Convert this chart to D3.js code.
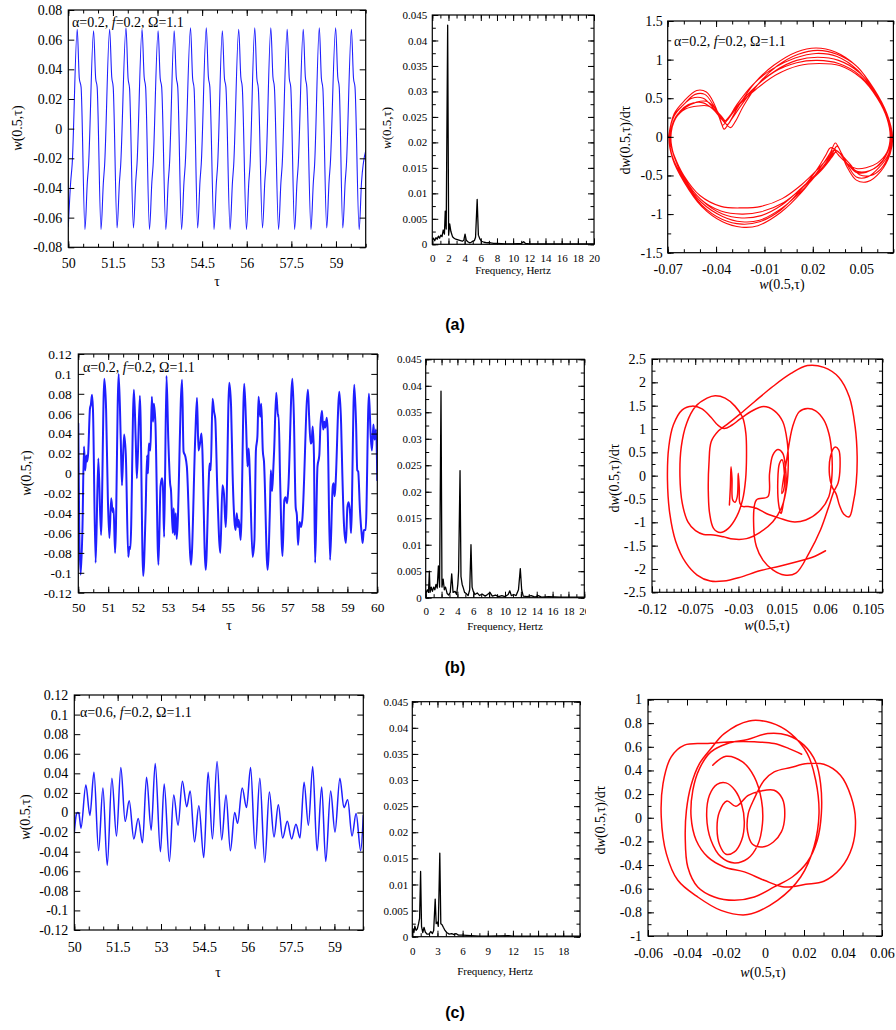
<!DOCTYPE html>
<html>
<head>
<meta charset="utf-8">
<script src="https://cdn.jsdelivr.net/npm/d3@7"></script>
<style>
  body { margin: 0; background: #fff; }
  svg { display: block; }
</style>
</head>
<body>
<svg id="fig" width="896" height="1030"></svg>
<script>
const SERIF = "'Liberation Serif', 'Times New Roman', serif";
const SANS = "'Liberation Sans', Arial, sans-serif";

// ---------- (a) alpha = 0.2 ----------
const aTime = [
  [50.00,-0.066],[50.08,-0.036],[50.13,-0.024],
  [50.30,0.067],[50.37,0.034],[50.43,0.028],[50.56,-0.068],[50.64,-0.036],[50.68,-0.025],
  [50.85,0.066],[50.92,0.034],[50.97,0.028],[51.10,-0.068],[51.18,-0.036],[51.22,-0.025],
  [51.39,0.067],[51.46,0.035],[51.51,0.028],[51.64,-0.067],[51.72,-0.036],[51.76,-0.025],
  [51.94,0.068],[52.01,0.034],[52.06,0.027],[52.19,-0.067],[52.27,-0.035],[52.31,-0.024],
  [52.48,0.067],[52.55,0.035],[52.60,0.028],[52.73,-0.068],[52.81,-0.036],[52.85,-0.025],
  [53.02,0.066],[53.09,0.034],[53.14,0.028],[53.28,-0.068],[53.36,-0.036],[53.40,-0.025],
  [53.56,0.066],[53.63,0.035],[53.68,0.028],[53.81,-0.068],[53.89,-0.036],[53.93,-0.025],
  [54.11,0.068],[54.18,0.034],[54.23,0.027],[54.35,-0.067],[54.43,-0.035],[54.47,-0.024],
  [54.64,0.068],[54.71,0.035],[54.76,0.028],[54.90,-0.068],[54.98,-0.036],[55.02,-0.025],
  [55.18,0.066],[55.25,0.034],[55.30,0.028],[55.44,-0.068],[55.52,-0.036],[55.56,-0.025],
  [55.73,0.067],[55.80,0.035],[55.85,0.028],[55.99,-0.068],[56.07,-0.036],[56.11,-0.025],
  [56.27,0.068],[56.34,0.034],[56.39,0.027],[56.53,-0.067],[56.61,-0.035],[56.65,-0.024],
  [56.81,0.068],[56.88,0.035],[56.93,0.028],[57.07,-0.068],[57.15,-0.036],[57.19,-0.025],
  [57.36,0.067],[57.43,0.034],[57.48,0.028],[57.61,-0.068],[57.69,-0.036],[57.73,-0.025],
  [57.90,0.067],[57.97,0.035],[58.02,0.028],[58.16,-0.068],[58.24,-0.036],[58.28,-0.025],
  [58.44,0.068],[58.51,0.034],[58.56,0.027],[58.69,-0.067],[58.77,-0.035],[58.81,-0.024],
  [58.99,0.068],[59.06,0.035],[59.11,0.028],[59.23,-0.067],[59.31,-0.036],[59.35,-0.025],
  [59.52,0.067],[59.59,0.034],[59.64,0.028],[59.78,-0.068],[59.86,-0.036],[60.00,-0.015]
];

const aSpectrum = [
  [0,0.0008],[0.15,0.0012],[0.3,0.0007],[0.45,0.0013],[0.6,0.001],[0.75,0.0016],[0.9,0.0012],
  [1.05,0.0018],[1.2,0.0015],[1.35,0.0028],[1.5,0.002],[1.6,0.0065],[1.72,0.003],[1.9,0.043],
  [2.02,0.0018],[2.15,0.004],[2.3,0.0025],[2.5,0.0015],[2.7,0.0012],[2.9,0.001],[3.1,0.0009],
  [3.3,0.0008],[3.5,0.0007],[3.7,0.0006],[3.9,0.0008],[4.05,0.002],[4.2,0.0008],[4.4,0.0005],
  [4.6,0.0003],[4.8,0.0004],[5.0,0.0006],[5.2,0.0007],[5.35,0.0014],[5.55,0.0088],[5.7,0.0018],
  [5.9,0.001],[6.1,0.0006],[6.4,0.0004],[6.8,0.0003],[7.2,0.0003],[7.6,0.0002],[8,0.0002],
  [9,0.0001],[10,0.0001],[11,0.0002],[11.3,0.0005],[11.5,0.0002],[12,0.0001],[14,0.0001],
  [16,0.0001],[20,0.0001]
];

// overlapping orbits of the attractor
const aOrbitA = [[-0.0695,0.00],[-0.066,0.30],[-0.060,0.46],[-0.052,0.60],[-0.046,0.58],[-0.041,0.42],[-0.037,0.20],[-0.035,0.10],[-0.032,0.18],[-0.026,0.40],[-0.016,0.70],[-0.004,0.93],[0.010,1.10],[0.022,1.15],[0.034,1.10],[0.047,0.92],[0.058,0.62],[0.066,0.30],[0.0695,0.00],[0.068,-0.22],[0.062,-0.45],[0.054,-0.58],[0.047,-0.56],[0.041,-0.38],[0.037,-0.18],[0.034,-0.08],[0.031,-0.20],[0.024,-0.42],[0.013,-0.72],[0.000,-0.98],[-0.014,-1.15],[-0.024,-1.17],[-0.036,-1.10],[-0.049,-0.90],[-0.060,-0.58],[-0.067,-0.28]];
const aOrbitB = [[-0.0690,0.00],[-0.066,0.28],[-0.060,0.42],[-0.053,0.55],[-0.047,0.55],[-0.042,0.42],[-0.038,0.25],[-0.036,0.15],[-0.033,0.22],[-0.027,0.42],[-0.017,0.68],[-0.005,0.88],[0.009,1.02],[0.022,1.08],[0.035,1.04],[0.048,0.86],[0.058,0.58],[0.066,0.28],[0.069,0.00],[0.067,-0.22],[0.061,-0.40],[0.054,-0.52],[0.047,-0.52],[0.042,-0.38],[0.038,-0.22],[0.035,-0.12],[0.032,-0.22],[0.025,-0.42],[0.014,-0.68],[0.001,-0.92],[-0.013,-1.08],[-0.024,-1.10],[-0.036,-1.03],[-0.049,-0.85],[-0.060,-0.55],[-0.067,-0.26]];
const aOrbitC = [[-0.0685,0.00],[-0.065,0.26],[-0.059,0.38],[-0.052,0.45],[-0.046,0.46],[-0.041,0.38],[-0.037,0.26],[-0.035,0.20],[-0.032,0.26],[-0.026,0.42],[-0.016,0.64],[-0.004,0.84],[0.010,0.96],[0.023,0.99],[0.036,0.95],[0.049,0.80],[0.059,0.54],[0.066,0.26],[0.0685,0.00],[0.066,-0.22],[0.060,-0.38],[0.053,-0.46],[0.047,-0.46],[0.042,-0.36],[0.038,-0.25],[0.035,-0.18],[0.032,-0.26],[0.025,-0.44],[0.014,-0.65],[0.002,-0.85],[-0.012,-0.97],[-0.024,-1.00],[-0.037,-0.96],[-0.050,-0.80],[-0.060,-0.52],[-0.066,-0.25]];
const aOrbitD = [[-0.068,0.00],[-0.065,0.24],[-0.059,0.36],[-0.051,0.40],[-0.045,0.40],[-0.040,0.34],[-0.036,0.25],[-0.034,0.20],[-0.031,0.27],[-0.025,0.43],[-0.015,0.62],[-0.003,0.80],[0.011,0.92],[0.024,0.95],[0.037,0.92],[0.050,0.76],[0.060,0.50],[0.066,0.24],[0.068,0.00],[0.066,-0.20],[0.060,-0.34],[0.053,-0.40],[0.047,-0.41],[0.041,-0.34],[0.036,-0.24],[0.033,-0.17],[0.030,-0.26],[0.023,-0.42],[0.013,-0.62],[0.001,-0.80],[-0.012,-0.90],[-0.024,-0.92],[-0.037,-0.90],[-0.050,-0.76],[-0.060,-0.50],[-0.066,-0.24]];
const aOrbitE = [[-0.0692,0.00],[-0.066,0.27],[-0.061,0.40],[-0.055,0.50],[-0.048,0.50],[-0.042,0.38],[-0.036,0.22],[-0.031,0.12],[-0.028,0.20],[-0.023,0.40],[-0.014,0.68],[-0.002,0.92],[0.011,1.07],[0.023,1.12],[0.035,1.07],[0.048,0.90],[0.058,0.60],[0.066,0.29],[0.0692,0.00],[0.067,-0.24],[0.062,-0.42],[0.056,-0.50],[0.049,-0.49],[0.043,-0.35],[0.036,-0.20],[0.031,-0.14],[0.028,-0.24],[0.022,-0.44],[0.012,-0.70],[0.000,-0.95],[-0.013,-1.10],[-0.024,-1.13],[-0.036,-1.07],[-0.049,-0.88],[-0.060,-0.56],[-0.067,-0.27]];
const aOrbitF = [[-0.0688,0.00],[-0.065,0.25],[-0.060,0.38],[-0.054,0.44],[-0.048,0.44],[-0.042,0.36],[-0.037,0.24],[-0.033,0.16],[-0.030,0.24],[-0.024,0.42],[-0.015,0.66],[-0.003,0.86],[0.010,0.99],[0.023,1.03],[0.036,0.99],[0.049,0.83],[0.059,0.56],[0.066,0.27],[0.0688,0.00],[0.066,-0.22],[0.061,-0.37],[0.055,-0.44],[0.048,-0.45],[0.042,-0.36],[0.037,-0.26],[0.034,-0.20],[0.031,-0.27],[0.024,-0.44],[0.013,-0.66],[0.001,-0.88],[-0.012,-1.02],[-0.024,-1.05],[-0.036,-1.00],[-0.049,-0.82],[-0.060,-0.53],[-0.066,-0.26]];
const aPhase = [...aOrbitA, ...aOrbitE, ...aOrbitB, ...aOrbitF, ...aOrbitC, ...aOrbitD, [-0.0695,0.00]];

// ---------- (b) alpha = 0.2, chaotic ----------
const bTime = [
  [50.00,0.050],[50.03,-0.054],[50.08,-0.102],[50.14,-0.054],[50.19,0.027],[50.23,0.003],[50.27,0.018],[50.30,0.012],[50.33,0.020],[50.39,0.065],[50.42,0.069],[50.46,0.079],[50.49,0.065],[50.58,-0.090],[50.67,0.015],[50.76,-0.062],[50.87,0.095],[50.93,0.064],[50.99,-0.027],[51.04,-0.065],[51.10,-0.025],[51.15,-0.039],[51.18,-0.035],[51.23,-0.080],[51.35,0.100],[51.42,0.034],[51.46,-0.012],[51.53,0.039],[51.59,0.018],[51.67,-0.084],[51.71,-0.074],[51.74,-0.076],[51.86,0.084],[51.92,0.034],[51.96,-0.005],[52.06,0.078],[52.17,-0.103],[52.25,-0.040],[52.30,0.018],[52.33,0.000],[52.36,0.030],[52.41,0.023],[52.46,0.077],[52.50,0.052],[52.53,0.070],[52.58,0.050],[52.68,-0.092],[52.75,-0.013],[52.80,-0.005],[52.83,-0.013],[52.87,-0.064],[52.95,0.098],[53.01,0.034],[53.07,-0.010],[53.10,-0.017],[53.16,-0.060],[53.19,-0.035],[53.22,-0.062],[53.26,-0.040],[53.29,-0.066],[53.47,0.094],[53.52,0.022],[53.58,0.017],[53.63,0.007],[53.77,-0.092],[53.91,0.035],[53.97,0.076],[54.02,0.023],[54.07,0.030],[54.12,0.040],[54.26,-0.097],[54.36,-0.010],[54.39,0.010],[54.43,0.003],[54.49,0.075],[54.54,0.062],[54.58,0.055],[54.65,-0.017],[54.75,-0.080],[54.82,-0.012],[54.87,-0.020],[54.93,-0.054],[55.05,0.091],[55.11,0.067],[55.16,0.000],[55.22,-0.047],[55.26,-0.057],[55.30,-0.040],[55.34,-0.054],[55.37,-0.047],[55.43,-0.067],[55.55,0.090],[55.61,0.050],[55.66,0.007],[55.70,0.025],[55.74,-0.003],[55.83,-0.084],[55.89,-0.067],[55.94,0.023],[55.99,0.037],[56.03,0.077],[56.08,0.057],[56.12,0.070],[56.17,0.023],[56.21,0.012],[56.33,-0.097],[56.41,-0.034],[56.44,0.003],[56.48,-0.018],[56.52,0.003],[56.55,0.023],[56.62,0.081],[56.68,0.057],[56.70,0.059],[56.75,-0.007],[56.83,-0.083],[56.89,-0.027],[56.93,-0.024],[56.98,-0.030],[57.02,-0.017],[57.16,0.095],[57.21,0.057],[57.27,-0.034],[57.31,-0.042],[57.35,-0.072],[57.40,-0.049],[57.45,-0.054],[57.49,-0.047],[57.68,0.084],[57.72,0.057],[57.77,0.030],[57.80,0.031],[57.84,0.047],[57.88,0.020],[57.92,-0.090],[58.00,0.007],[58.06,0.018],[58.10,0.049],[58.15,0.063],[58.19,0.044],[58.23,0.052],[58.26,0.046],[58.31,0.056],[58.34,0.044],[58.42,-0.087],[58.51,-0.013],[58.54,-0.010],[58.57,-0.023],[58.60,-0.013],[58.73,0.082],[58.79,0.050],[58.83,0.000],[58.89,-0.054],[58.95,-0.070],[59.00,-0.034],[59.04,-0.029],[59.09,-0.040],[59.12,-0.060],[59.23,0.089],[59.29,0.050],[59.33,0.003],[59.36,0.002],[59.42,-0.037],[59.48,-0.062],[59.51,-0.070],[59.55,-0.057],[59.61,-0.057],[59.72,0.080],[59.78,0.037],[59.82,0.023],[59.87,0.049],[59.91,0.034],[59.96,0.044],[60.00,-0.007]
];

const bSpectrum = [
  [0,0.0008],[0.2,0.0015],[0.35,0.001],[0.46,0.005],[0.55,0.001],[0.7,0.002],[0.85,0.0012],[1.0,0.002],
  [1.15,0.0015],[1.3,0.0025],[1.45,0.0018],[1.6,0.006],[1.75,0.002],[1.93,0.039],[2.05,0.002],[2.2,0.0035],
  [2.35,0.0015],[2.5,0.002],[2.7,0.0008],[2.9,0.0005],[3.1,0.001],[3.28,0.0045],[3.45,0.001],[3.7,0.0012],
  [3.9,0.0006],[4.05,0.0025],[4.15,0.005],[4.33,0.024],[4.45,0.004],[4.6,0.0025],[4.75,0.0018],[4.9,0.001],
  [5.1,0.0008],[5.35,0.0004],[5.55,0.0015],[5.71,0.01],[5.85,0.002],[6.0,0.0012],[6.2,0.0006],[6.5,0.0009],
  [6.8,0.0004],[7.1,0.0007],[7.5,0.0003],[7.8,0.0006],[8.1,0.001],[8.4,0.0003],[8.8,0.0005],[9.2,0.0002],
  [9.6,0.0004],[10.0,0.0002],[10.4,0.0006],[10.6,0.0013],[10.8,0.0004],[11.1,0.0006],[11.4,0.0004],
  [11.7,0.0015],[11.93,0.0055],[12.1,0.0015],[12.3,0.0003],[12.8,0.0002],[13.3,0.0004],[13.8,0.0001],
  [14.2,0.0004],[14.6,0.0001],[15.5,0.0002],[17,0.0001],[18.5,0.0001],[20,0.0001]
];

const bPhase = [
  [0.0607,-1.61],[0.0470,-1.75],[0.0298,-1.85],[0.0127,-1.94],[-0.0079,-2.04],[-0.0285,-2.18],[-0.0456,-2.26],[-0.0593,-2.26],[-0.0730,-2.13],[-0.0850,-1.86],[-0.0953,-1.41],[-0.1015,-0.81],[-0.1039,-0.09],[-0.1025,0.62],[-0.0977,1.09],[-0.0885,1.41],[-0.0782,1.49],
  [-0.0679,1.43],[-0.0586,1.25],[-0.0518,1.09],[-0.0449,1.01],[-0.0370,1.08],[-0.0285,1.21],[-0.0165,1.38],[-0.0038,1.48],[0.0075,1.39],[0.0161,1.16],[0.0206,0.76],[0.0219,0.26],[0.0202,-0.24],[0.0154,-0.66],[0.0058,-0.99],[-0.0079,-1.22],[-0.0216,-1.35],[-0.0353,-1.36],[-0.0456,-1.31],[-0.0559,-1.27],[-0.0662,-1.26],[-0.0747,-1.18],[-0.0826,-0.99],[-0.0885,-0.59],[-0.0909,-0.02],[-0.0895,0.62],[-0.0840,1.12],[-0.0747,1.48],[-0.0627,1.66],[-0.0542,1.71],[-0.0439,1.66],[-0.0336,1.49],[-0.0257,1.25],[-0.0223,0.91],[-0.0216,0.41],[-0.0226,-0.09],[-0.0257,-0.52],[-0.0319,-0.88],[-0.0405,-1.13],[-0.0490,-1.22],[-0.0559,-1.13],[-0.0600,-0.81],[-0.0614,-0.31],[-0.0607,0.26],[-0.0583,0.73],[-0.0507,0.96],
  [-0.0405,1.12],[-0.0285,1.32],[-0.0130,1.59],[0.0058,1.91],[0.0247,2.19],[0.0418,2.36],[0.0590,2.32],[0.0744,2.11],[0.0854,1.69],[0.0915,1.05],[0.0936,0.41],[0.0926,-0.16],[0.0895,-0.59],[0.0854,-0.88],[0.0795,-0.82],[0.0751,-0.63],[0.0717,-0.39],
  [0.0675,-0.24],[0.0648,0.01],[0.0658,0.41],[0.0703,0.61],[0.0744,0.55],[0.0758,0.19],[0.0737,-0.16],[0.0693,-0.34],
  [0.0641,-0.66],[0.0555,-1.16],[0.0435,-1.66],[0.0298,-2.09],[0.0178,-2.13],[0.0058,-2.02],[-0.0045,-1.81],[-0.0113,-1.52],[-0.0141,-1.09],[-0.0113,-0.52],
  [0.0007,-0.45],[0.0024,0.05],[0.0058,0.44],[0.0110,0.56],[0.0161,0.48],[0.0189,0.19],[0.0195,-0.24],[0.0168,-0.59],[0.0144,-0.81],[0.0120,-0.63],[0.0110,-0.09],[0.0127,0.26],[0.0154,0.34],[0.0178,0.05],[0.0171,-0.31],[0.0151,-0.38],
  [0.0202,0.34],[0.0264,1.05],[0.0333,1.37],[0.0418,1.44],[0.0504,1.39],[0.0590,1.19],[0.0641,0.91],[0.0669,0.55],[0.0675,0.05],[0.0641,-0.45],[0.0538,-0.77],[0.0401,-0.95],[0.0264,-0.99],[0.0127,-0.91],[-0.0010,-0.81],[-0.0113,-0.70],[-0.0199,-0.66],[-0.0257,-0.66],[-0.0285,-0.59],[-0.0291,-0.27],[-0.0302,0.05],[-0.0312,-0.45],[-0.0336,-0.57],[-0.0360,-0.52],[-0.0367,-0.06],[-0.0377,0.19],[-0.0384,-0.24],[-0.0394,-0.63]
];

// ---------- (c) alpha = 0.6 ----------
const cTime = [
  [50.00,-0.021],[50.07,-0.002],[50.115,0.000],[50.16,-0.001],[50.23,-0.016],[50.40,0.028],[50.54,-0.003],[50.68,0.041],[50.84,-0.039],[50.99,0.025],[51.14,-0.054],[51.30,0.035],[51.46,-0.024],[51.61,0.046],[51.76,-0.009],[51.90,0.012],[52.06,-0.027],[52.21,-0.006],[52.36,-0.031],[52.50,0.036],[52.66,-0.018],[52.80,0.050],[52.98,-0.040],[53.11,0.029],[53.29,-0.050],[53.44,0.018],[53.59,-0.013],[53.74,0.032],[53.89,0.006],[54.01,0.022],[54.16,-0.030],[54.31,0.007],[54.48,-0.046],[54.63,0.041],[54.78,-0.027],[54.94,0.052],[55.10,-0.028],[55.25,0.018],[55.40,-0.039],[55.55,0.000],[55.65,-0.011],[55.81,0.025],[55.96,0.005],[56.10,0.046],[56.26,-0.037],[56.42,0.035],[56.59,-0.051],[56.75,0.021],[56.91,-0.025],[57.06,0.008],[57.21,-0.026],[57.37,-0.009],[57.52,-0.027],[57.67,-0.012],[57.81,-0.026],[57.95,0.031],[58.10,-0.013],[58.25,0.047],[58.40,-0.039],[58.56,0.026],[58.70,-0.050],[58.87,0.022],[59.02,-0.020],[59.19,0.035],[59.33,0.005],[59.46,0.013],[59.61,-0.024],[59.75,-0.001],[59.91,-0.039],[60.00,-0.003]
];

const cSpectrum = [
  [0,0.0005],[0.1,0.0015],[0.2,0.0008],[0.3,0.002],[0.45,0.0012],[0.6,0.0015],[0.75,0.0025],[0.87,0.0035],
  [0.99,0.0125],[1.1,0.002],[1.25,0.0008],[1.4,0.0018],[1.55,0.0009],[1.75,0.0005],[2.0,0.0005],[2.2,0.001],
  [2.4,0.0006],[2.55,0.0012],[2.73,0.0072],[2.85,0.0025],[3.0,0.0028],[3.1,0.002],[3.28,0.016],[3.4,0.0025],
  [3.55,0.0023],[3.7,0.0018],[3.9,0.0012],[4.1,0.0008],[4.4,0.0005],[4.7,0.0006],[5.0,0.0004],[5.2,0.0006],
  [5.5,0.0003],[6,0.0003],[7,0.0002],[8,0.0001],[9,0.0001],[11.5,0.0002],[12,0.0001],[15,0.0001],[20,0.0001]
];

const cPhase = [
  [-0.0268,0.444],[-0.0200,0.520],[-0.0115,0.472],[-0.0055,0.346],[-0.0018,0.148],[-0.0013,-0.049],[-0.0038,-0.233],[-0.0089,-0.346],[-0.0157,-0.382],[-0.0226,-0.331],[-0.0277,-0.190],[-0.0299,0.007],[-0.0285,0.190],[-0.0246,0.283],[-0.0200,0.295],[-0.0154,0.233],[-0.0120,0.114],[-0.0106,-0.035],[-0.0120,-0.190],[-0.0157,-0.289],[-0.0200,-0.309],[-0.0232,-0.233],[-0.0246,-0.092],[-0.0234,0.049],[-0.0195,0.142],
  [-0.0149,0.097],[-0.0086,0.190],[-0.0021,0.227],[0.0047,0.233],[0.0089,0.162],[0.0101,0.007],[0.0084,-0.120],[0.0043,-0.205],[-0.0013,-0.247],[-0.0064,-0.224],[-0.0089,-0.120],[-0.0086,0.035],[-0.0059,0.148],[-0.0004,0.317],
  [0.0047,0.388],[0.0132,0.425],[0.0217,0.458],[0.0302,0.453],[0.0387,0.360],[0.0442,0.176],[0.0464,-0.021],[0.0447,-0.247],[0.0387,-0.430],[0.0302,-0.537],[0.0209,-0.563],[0.0098,-0.585],[-0.0004,-0.529],[-0.0106,-0.458],[-0.0209,-0.416],[-0.0294,-0.331],[-0.0353,-0.190],[-0.0379,0.007],[-0.0370,0.233],[-0.0336,0.416],[-0.0277,0.557],[-0.0192,0.628],[-0.0089,0.662],[0.0013,0.712],
  [0.0115,0.698],[0.0200,0.614],[0.0260,0.472],[0.0285,0.289],[0.0289,0.035],[0.0268,-0.190],[0.0217,-0.374],[0.0140,-0.501],[0.0047,-0.585],[-0.0055,-0.670],[-0.0157,-0.698],[-0.0260,-0.670],[-0.0345,-0.585],[-0.0396,-0.416],[-0.0409,-0.162],[-0.0403,0.063],[-0.0379,0.275],[-0.0336,0.458],[-0.0277,0.585],[-0.0209,0.712],[-0.0081,0.819],
  [0.0030,0.803],[0.0132,0.712],[0.0217,0.543],[0.0260,0.317],[0.0277,0.035],[0.0251,-0.247],[0.0183,-0.501],[0.0064,-0.698],[-0.0089,-0.819],[-0.0226,-0.783],[-0.0345,-0.670],[-0.0447,-0.529],[-0.0506,-0.303],[-0.0532,0.007],[-0.0523,0.289],[-0.0481,0.515],
  [-0.0413,0.614],[-0.0294,0.628],[-0.0174,0.642],[-0.0055,0.642],[0.0047,0.628],[0.0123,0.585],[0.0188,0.537]
];

// ---------- tick values ----------
const tauTicks15 = [50, 51.5, 53, 54.5, 56, 57.5, 59];
const tauTicks1 = [50, 51, 52, 53, 54, 55, 56, 57, 58, 59, 60];
const wTicks08 = [-0.08, -0.06, -0.04, -0.02, 0, 0.02, 0.04, 0.06, 0.08];
const wTicks12 = [-0.12, -0.1, -0.08, -0.06, -0.04, -0.02, 0, 0.02, 0.04, 0.06, 0.08, 0.1, 0.12];
const ampTicks = [0, 0.005, 0.01, 0.015, 0.02, 0.025, 0.03, 0.035, 0.04, 0.045];
const freqTicks2 = [0, 2, 4, 6, 8, 10, 12, 14, 16, 18, 20];
const freqTicks3 = [0, 3, 6, 9, 12, 15, 18];
const aPhaseXTicks = [-0.07, -0.04, -0.01, 0.02, 0.05];
const aPhaseYTicks = [-1.5, -1, -0.5, 0, 0.5, 1, 1.5];
const bPhaseXTicks = [-0.12, -0.075, -0.03, 0.015, 0.06, 0.105];
const bPhaseYTicks = [-2.5, -2, -1.5, -1, -0.5, 0, 0.5, 1, 1.5, 2, 2.5];
const cPhaseXTicks = [-0.06, -0.04, -0.02, 0, 0.02, 0.04, 0.06];
const cPhaseYTicks = [-1, -0.8, -0.6, -0.4, -0.2, 0, 0.2, 0.4, 0.6, 0.8, 1];

const wLabel = [["w", true], ["(0.5,τ)", false]];
const dwLabel = [["d", false], ["w", true], ["(0.5,τ)/dτ", false]];
const tauLabel = [["τ", false]];
const freqLabel = [["Frequency, Hertz", false]];
const paramsA = [["α=0.2, ", false], ["f", true], ["=0.2, Ω=1.1", false]];
const paramsC = [["α=0.6, ", false], ["f", true], ["=0.2, Ω=1.1", false]];

const svg = d3.select("#fig");
svg.append("rect").attr("width", 896).attr("height", 1030).attr("fill", "#fff");

function richText(sel, parts) {
  parts.forEach(([t, it]) => sel.append("tspan").text(t).attr("font-style", it ? "italic" : null));
  return sel;
}

const BLUE = "#1f1fff", RED = "#ff0a0a", BLACK = "#000";

function drawPanel(p) {
  const [L, R, T, B] = p.box;
  const g = svg.append("g");
  const x = d3.scaleLinear().domain(p.xDomain).range([L, R]);
  const y = d3.scaleLinear().domain(p.yDomain).range([B, T]);

  const clipId = "clip-" + p.id;
  g.append("clipPath").attr("id", clipId)
    .append("rect").attr("x", L).attr("y", T).attr("width", R - L).attr("height", B - T);

  g.append("path").datum(p.data)
    .attr("clip-path", `url(#${clipId})`)
    .attr("fill", "none").attr("stroke", p.color).attr("stroke-width", p.lw)
    .attr("stroke-linejoin", "round").attr("stroke-linecap", "round")
    .attr("d", d3.line().x(d => x(d[0])).y(d => y(d[1])).curve(p.curve));

  const style = s => s.attr("font-family", SERIF).attr("font-size", p.fs)
    .call(a => a.select(".domain").remove())
    .call(a => a.selectAll("line").attr("stroke", "#000").attr("stroke-width", 1));
  const fmt = v => String(v);
  const major = 6, minor = 3.5;

  // minor ticks on all four sides, pointing inward
  if (p.xMinor) {
    g.append("g").attr("transform", `translate(0,${B})`).call(d3.axisBottom(x).tickValues(p.xMinor).tickSize(-minor).tickFormat("")).call(style);
    g.append("g").attr("transform", `translate(0,${T})`).call(d3.axisTop(x).tickValues(p.xMinor).tickSize(-minor).tickFormat("")).call(style);
  }
  if (p.yMinor) {
    g.append("g").attr("transform", `translate(${L},0)`).call(d3.axisLeft(y).tickValues(p.yMinor).tickSize(-minor).tickFormat("")).call(style);
    g.append("g").attr("transform", `translate(${R},0)`).call(d3.axisRight(y).tickValues(p.yMinor).tickSize(-minor).tickFormat("")).call(style);
  }
  // major ticks with labels on bottom and left
  const xb = g.append("g").attr("transform", `translate(0,${B})`)
    .call(d3.axisBottom(x).tickValues(p.xTicks).tickSize(-major).tickPadding(p.xPad).tickFormat(fmt)).call(style);
  g.append("g").attr("transform", `translate(0,${T})`)
    .call(d3.axisTop(x).tickValues(p.xTicks).tickSize(-major).tickFormat("")).call(style);
  g.append("g").attr("transform", `translate(${L},0)`)
    .call(d3.axisLeft(y).tickValues(p.yTicks).tickSize(-major).tickPadding(p.yPad).tickFormat(fmt)).call(style);
  g.append("g").attr("transform", `translate(${R},0)`)
    .call(d3.axisRight(y).tickValues(p.yTicks).tickSize(-major).tickFormat("")).call(style);
  g.selectAll("text").attr("fill", "#000");

  if (p.xLabelClip) {
    const cid = "xclip-" + p.id;
    g.append("clipPath").attr("id", cid).append("rect")
      .attr("x", -10).attr("y", -20).attr("width", p.xLabelClip + 10).attr("height", 60);
    xb.attr("clip-path", `url(#${cid})`);
  }

  g.append("rect").attr("x", L).attr("y", T).attr("width", R - L).attr("height", B - T)
    .attr("fill", "none").attr("stroke", "#000").attr("stroke-width", 1.2);

  if (p.xTitle) {
    richText(g.append("text").attr("x", p.xTitle.x).attr("y", p.xTitle.y)
      .attr("text-anchor", "middle").attr("font-family", SERIF).attr("font-size", p.xTitle.size), p.xTitle.parts);
  }
  if (p.yTitle) {
    richText(g.append("text").attr("transform", `translate(${p.yTitle.x},${p.yTitle.y}) rotate(-90)`)
      .attr("text-anchor", "middle").attr("font-family", SERIF).attr("font-size", p.yTitle.size), p.yTitle.parts);
  }
  if (p.note) {
    richText(g.append("text").attr("x", p.note.x).attr("y", p.note.y)
      .attr("font-family", SERIF).attr("font-size", p.note.size), p.note.parts);
  }
}

// ---------------- row (a) ----------------
drawPanel({
  id: "a1", box: [68.3, 365.7, 10, 247.3], xDomain: [50, 60], yDomain: [-0.08, 0.08],
  data: aTime, color: BLUE, lw: 1.1, curve: d3.curveMonotoneX,
  xTicks: tauTicks15, xMinor: d3.range(50, 60.01, 0.5), yTicks: wTicks08,
  fs: 14, xPad: 11, yPad: 6,
  xTitle: { parts: tauLabel, x: 217, y: 286, size: 14 },
  yTitle: { parts: wLabel, x: 22, y: 128, size: 14 },
  note: { parts: paramsA, x: 72, y: 27, size: 14 }
});
drawPanel({
  id: "a2", box: [432.3, 594, 15, 244.3], xDomain: [0, 20], yDomain: [0, 0.045],
  data: aSpectrum, color: BLACK, lw: 1.3, curve: d3.curveLinear,
  xTicks: freqTicks2, xMinor: d3.range(0, 20.01, 1), yTicks: ampTicks, yMinor: d3.range(0, 0.0451, 0.0025),
  fs: 11, xPad: 10, yPad: 5,
  xTitle: { parts: freqLabel, x: 513, y: 274, size: 11 },
  yTitle: { parts: wLabel, x: 391, y: 128, size: 13 }
});
drawPanel({
  id: "a3", box: [667.7, 893.4, 21, 252.7], xDomain: [-0.07, 0.07], yDomain: [-1.5, 1.5],
  data: aPhase, color: RED, lw: 1.1, curve: d3.curveCatmullRom,
  xTicks: aPhaseXTicks, xMinor: d3.range(-0.07, 0.0701, 0.01), yTicks: aPhaseYTicks, yMinor: d3.range(-1.5, 1.501, 0.25),
  fs: 14, xPad: 11, yPad: 5,
  xTitle: { parts: wLabel, x: 782, y: 289, size: 14 },
  yTitle: { parts: dwLabel, x: 630, y: 140, size: 14 },
  note: { parts: paramsA, x: 674, y: 46, size: 14 }
});

// ---------------- row (b) ----------------
drawPanel({
  id: "b1", box: [78.3, 377.3, 354, 592.7], xDomain: [50, 60], yDomain: [-0.12, 0.12],
  data: bTime, color: BLUE, lw: 2, curve: d3.curveMonotoneX,
  xTicks: tauTicks1, xMinor: d3.range(50, 60.01, 0.5), yTicks: wTicks12,
  fs: 13.5, xPad: 9.5, yPad: 6.5,
  xTitle: { parts: tauLabel, x: 229, y: 630, size: 14 },
  yTitle: { parts: wLabel, x: 31, y: 473, size: 14 },
  note: { parts: paramsA, x: 83, y: 372, size: 14 }
});
drawPanel({
  id: "b2", box: [425.7, 584.3, 359.3, 597.7], xDomain: [0, 20], yDomain: [0, 0.045],
  data: bSpectrum, color: BLACK, lw: 1.3, curve: d3.curveLinear,
  xTicks: freqTicks2, xMinor: d3.range(0, 20.01, 1), yTicks: ampTicks, yMinor: d3.range(0, 0.0451, 0.0025),
  fs: 11, xPad: 10, yPad: 4, xLabelClip: 586,
  xTitle: { parts: freqLabel, x: 505, y: 630, size: 11 }
});
drawPanel({
  id: "b3", box: [652, 882.5, 359, 592.3], xDomain: [-0.12, 0.12], yDomain: [-2.5, 2.5],
  data: bPhase, color: RED, lw: 1.5, curve: d3.curveCatmullRom,
  xTicks: bPhaseXTicks, xMinor: d3.range(-0.12, 0.1201, 0.0075), yTicks: bPhaseYTicks, yMinor: d3.range(-2.5, 2.501, 0.25),
  fs: 14, xPad: 12, yPad: 6,
  xTitle: { parts: wLabel, x: 767, y: 630, size: 14 },
  yTitle: { parts: dwLabel, x: 619, y: 478, size: 14 }
});

// ---------------- row (c) ----------------
drawPanel({
  id: "c1", box: [74.3, 363.3, 695, 930], xDomain: [50, 60], yDomain: [-0.12, 0.12],
  data: cTime, color: BLUE, lw: 1.5, curve: d3.curveMonotoneX,
  xTicks: tauTicks15, xMinor: d3.range(50, 60.01, 0.5), yTicks: wTicks12,
  fs: 14, xPad: 12, yPad: 6,
  xTitle: { parts: tauLabel, x: 218, y: 977, size: 14 },
  yTitle: { parts: wLabel, x: 30, y: 817, size: 14 },
  note: { parts: paramsC, x: 80, y: 717, size: 14 }
});
drawPanel({
  id: "c2", box: [412.3, 580, 701.7, 936.7], xDomain: [0, 20], yDomain: [0, 0.045],
  data: cSpectrum, color: BLACK, lw: 1.3, curve: d3.curveLinear,
  xTicks: freqTicks3, xMinor: d3.range(0, 20.01, 1), yTicks: ampTicks, yMinor: d3.range(0, 0.0451, 0.0025),
  fs: 11, xPad: 11, yPad: 4,
  xTitle: { parts: freqLabel, x: 495, y: 975, size: 11 }
});
drawPanel({
  id: "c3", box: [648, 882, 699.5, 936], xDomain: [-0.06, 0.06], yDomain: [-1, 1],
  data: cPhase, color: RED, lw: 1.5, curve: d3.curveCatmullRom,
  xTicks: cPhaseXTicks, xMinor: d3.range(-0.06, 0.0601, 0.01), yTicks: cPhaseYTicks, yMinor: d3.range(-1, 1.001, 0.1),
  fs: 14, xPad: 12, yPad: 6,
  xTitle: { parts: wLabel, x: 763, y: 977, size: 14 },
  yTitle: { parts: dwLabel, x: 605, y: 820, size: 14 }
});

// row captions
const captions = [["(a)", 330], ["(b)", 673], ["(c)", 1018]];
svg.selectAll("text.caption").data(captions).join("text")
  .attr("class", "caption")
  .attr("x", 455).attr("y", d => d[1])
  .attr("text-anchor", "middle")
  .attr("font-family", SANS).attr("font-weight", "bold").attr("font-size", 16)
  .attr("fill", "#000")
  .text(d => d[0]);
</script>
</body>
</html>
